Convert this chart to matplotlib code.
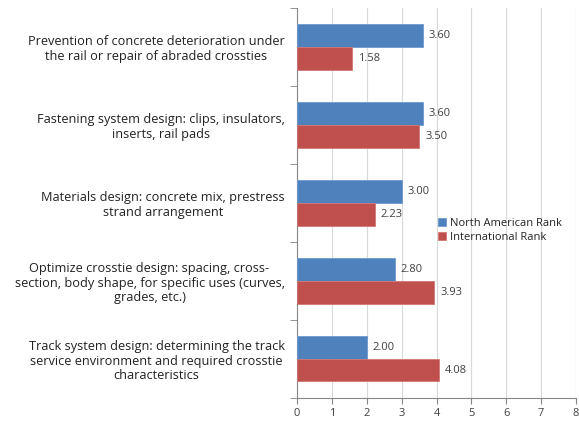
import matplotlib
matplotlib.use("Agg")
import matplotlib.pyplot as plt
import numpy as np

matplotlib.rcParams['font.family'] = ['Open Sans', 'DejaVu Sans']

# ---------- Data ----------
categories = [
    "Prevention of concrete deterioration under\nthe rail or repair of abraded crossties",
    "Fastening system design: clips, insulators,\ninserts, rail pads",
    "Materials design: concrete mix, prestress\nstrand arrangement",
    "Optimize crosstie design: spacing, cross-\nsection, body shape, for specific uses (curves,\ngrades, etc.)",
    "Track system design: determining the track\nservice environment and required crosstie\ncharacteristics",
]
north_american = [3.60, 3.60, 3.00, 2.80, 2.00]
international = [1.58, 3.50, 2.23, 3.93, 4.08]
series_names = ["North American Rank", "International Rank"]
x_ticks = [0, 1, 2, 3, 4, 5, 6, 7, 8]

BLUE = "#4F81BD"
RED = "#C0504D"
TEXT = "#404040"

fig = plt.figure(figsize=(5.79, 4.21), dpi=100)
ax = fig.add_axes([0.513, 0.055, 0.482, 0.926])

y = np.arange(len(categories))
h = 0.29
ax.barh(y - h / 2, north_american, height=h, color=BLUE, edgecolor="#6f9bd1",
        linewidth=0.6, label=series_names[0], zorder=3)
ax.barh(y + h / 2, international, height=h, color=RED, edgecolor="#d27876",
        linewidth=0.6, label=series_names[1], zorder=3)

for yi, v in zip(y, north_american):
    ax.text(v + 0.17, yi - h / 2, f"{v:.2f}", va="center", ha="left",
            fontsize=8, color=TEXT)
for yi, v in zip(y, international):
    ax.text(v + 0.17, yi + h / 2, f"{v:.2f}", va="center", ha="left",
            fontsize=8, color=TEXT)

ax.set_ylim(len(categories) - 0.5, -0.5)
ax.set_xlim(0, 8)
ax.set_xticks(x_ticks)
ax.set_xticklabels([str(t) for t in x_ticks], fontsize=8, color=TEXT)

ax.set_yticks(y)
ax.set_yticklabels(categories, fontsize=9.2, color="#222222",
                   multialignment="center", linespacing=1.15)
ax.set_yticks(np.arange(-0.5, len(categories)), minor=True)
ax.tick_params(axis="y", which="major", length=0, pad=9)
ax.tick_params(axis="y", which="minor", length=5, color="#868686")
ax.tick_params(axis="x", which="major", length=4, color="#868686")

ax.grid(axis="x", color="#d9d9d9", linewidth=0.8, zorder=0)
for s in ["top", "right"]:
    ax.spines[s].set_visible(False)
ax.spines["left"].set_color("#868686")
ax.spines["bottom"].set_color("#868686")

ax.legend(loc="center left", bbox_to_anchor=(0.47, 0.43), frameon=False,
          fontsize=8, handlelength=0.7, handleheight=0.7, handletextpad=0.4,
          labelspacing=0.3, labelcolor="#222222")

fig.savefig("out.png", dpi=100)
